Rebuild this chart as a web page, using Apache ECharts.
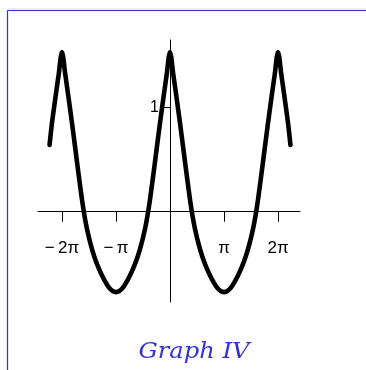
<!DOCTYPE html>
<html>
<head>
<meta charset="utf-8">
<script src="https://cdn.jsdelivr.net/npm/echarts@6/dist/echarts.min.js"></script>
<style>
  html, body { margin: 0; padding: 0; background: #fff; }
  #chart { width: 366px; height: 370px; }
</style>
</head>
<body>
<div id="chart"></div>
<script>
// x positions in multiples of pi
const xPi = [
  -2.23, -2.1875, -2.125, -2.0625, -2, -1.9375, -1.875, -1.8125, -1.75, -1.6875,
  -1.625, -1.5625, -1.5, -1.4375, -1.375, -1.3125, -1.25, -1.1875, -1.125, -1.0625,
  -1, -0.9375, -0.875, -0.8125, -0.75, -0.6875, -0.625, -0.5625, -0.5, -0.4375,
  -0.375, -0.3125, -0.25, -0.1875, -0.125, -0.0625, 0, 0.0625, 0.125, 0.1875,
  0.25, 0.3125, 0.375, 0.4375, 0.5, 0.5625, 0.625, 0.6875, 0.75, 0.8125,
  0.875, 0.9375, 1, 1.0625, 1.125, 1.1875, 1.25, 1.3125, 1.375, 1.4375,
  1.5, 1.5625, 1.625, 1.6875, 1.75, 1.8125, 1.875, 1.9375, 2, 2.0625,
  2.125, 2.1875, 2.23
];
// curve values
const yVals = [
  0.64, 0.84, 1.08, 1.31, 1.53, 1.31, 1.08, 0.84, 0.59, 0.34,
  0.10, -0.10, -0.25, -0.37, -0.47, -0.55, -0.62, -0.68, -0.73, -0.76,
  -0.77, -0.76, -0.73, -0.68, -0.62, -0.55, -0.47, -0.37, -0.25, -0.10,
  0.10, 0.34, 0.59, 0.84, 1.08, 1.31, 1.53, 1.31, 1.08, 0.84,
  0.59, 0.34, 0.10, -0.10, -0.25, -0.37, -0.47, -0.55, -0.62, -0.68,
  -0.73, -0.76, -0.77, -0.76, -0.73, -0.68, -0.62, -0.55, -0.47, -0.37,
  -0.25, -0.10, 0.10, 0.34, 0.59, 0.84, 1.08, 1.31, 1.53, 1.31,
  1.08, 0.84, 0.64
];
// tick positions and their labels
const xTickValues = [-2, -1, 1, 2];
const xTickLabels = ['\u2212\u20092\u03c0', '\u2212\u2009\u03c0', '\u03c0', '2\u03c0'];
const yTickValues = [1];
const yTickLabels = ['1'];
const titleText = 'Graph IV';

const frameColor = '#3333cc';
const xMin = -2.444, xMax = 2.407;
const yMin = -0.865, yMax = 1.645;
const gridLeft = 38, gridRight = 66, gridTop = 40, gridBottom = 68;
const gridW = 366 - gridLeft - gridRight;
const gridH = 370 - gridTop - gridBottom;
// shift the axes from the grid edges so they cross at the origin
const xAxisOffset = -(gridH * (0 - yMin) / (yMax - yMin));
const yAxisOffset = -(gridW * (0 - xMin) / (xMax - xMin));

const chart = echarts.init(document.getElementById('chart'), null, { renderer: 'canvas' });

chart.setOption({
  animation: false,
  backgroundColor: '#ffffff',
  grid: { left: gridLeft, right: gridRight, top: gridTop, bottom: gridBottom },
  xAxis: {
    type: 'value',
    position: 'bottom',
    offset: xAxisOffset,
    min: xMin, max: xMax,
    splitLine: { show: false },
    axisLine: { onZero: false, lineStyle: { color: '#000', width: 1 } },
    axisTick: { show: true, length: 10, customValues: xTickValues, lineStyle: { color: '#000', width: 1 } },
    axisLabel: {
      customValues: xTickValues,
      margin: 28,
      color: '#000',
      fontFamily: 'Liberation Sans',
      fontSize: 17,
      formatter: v => xTickLabels[xTickValues.indexOf(Math.round(v))] || ''
    }
  },
  yAxis: {
    type: 'value',
    position: 'left',
    offset: yAxisOffset,
    min: yMin, max: yMax,
    splitLine: { show: false },
    axisLine: { onZero: false, lineStyle: { color: '#000', width: 1 } },
    axisTick: { show: true, length: 10, customValues: yTickValues, lineStyle: { color: '#000', width: 1 } },
    axisLabel: {
      customValues: yTickValues,
      margin: 11,
      color: '#000',
      fontFamily: 'Liberation Sans',
      fontSize: 16,
      formatter: v => yTickLabels[yTickValues.indexOf(Math.round(v))] || ''
    }
  },
  series: [{
    type: 'line',
    data: xPi.map((x, i) => [x, yVals[i]]),
    smooth: 0.3,
    showSymbol: false,
    lineStyle: { color: '#000', width: 4.6, cap: 'round', join: 'round' }
  }],
  graphic: [
    { type: 'line', shape: { x1: 7.5, y1: 9, x2: 366, y2: 9 }, style: { stroke: '#dcdce4', lineWidth: 1 } },
    { type: 'line', shape: { x1: 7.5, y1: 10.5, x2: 366, y2: 10.5 }, style: { stroke: frameColor, lineWidth: 1.2 } },
    { type: 'line', shape: { x1: 7.5, y1: 10.5, x2: 7.5, y2: 370 }, style: { stroke: frameColor, lineWidth: 1.2 } },
    {
      type: 'text', x: 194, y: 352, scaleX: 1.1,
      style: { text: titleText, fill: frameColor, font: 'italic 22px "DejaVu Serif"', align: 'center', verticalAlign: 'middle' }
    }
  ]
});
</script>
</body>
</html>
